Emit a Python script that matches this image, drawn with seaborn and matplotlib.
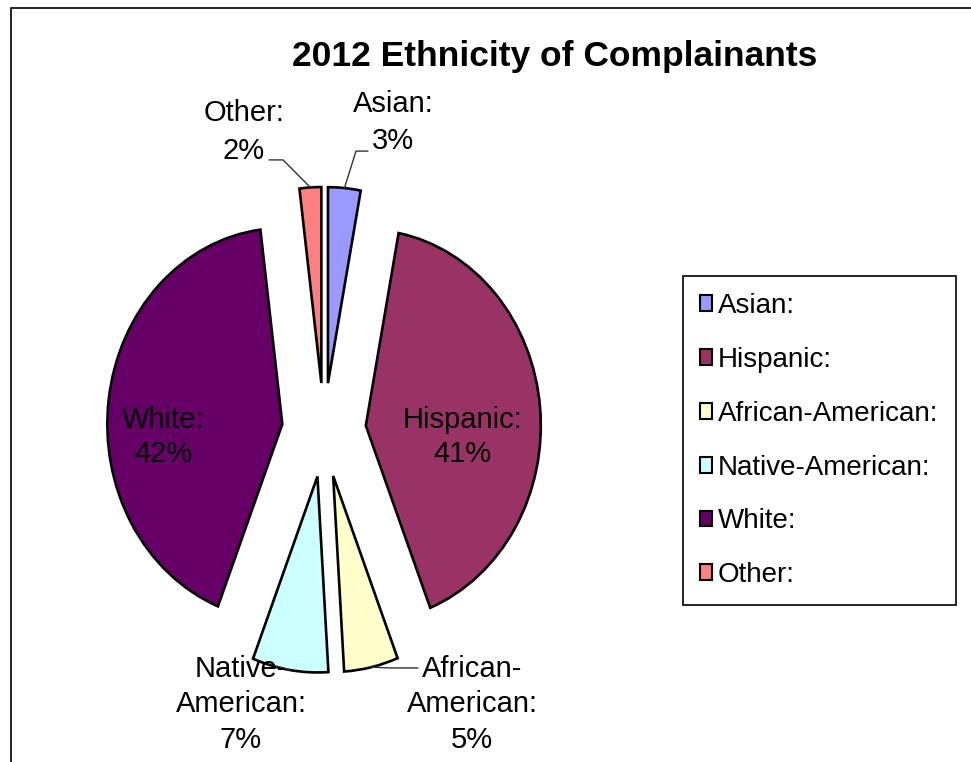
import matplotlib
matplotlib.use("Agg")
import matplotlib.pyplot as plt
import seaborn as sns
from matplotlib.patches import Patch
from matplotlib.lines import Line2D
import numpy as np

# ---- data ----
groups = ["Asian:", "Hispanic:", "African-American:", "Native-American:", "White:", "Other:"]
shares = [3, 41, 5, 7, 42, 2]
colors = ["#9999FF", "#993366", "#FFFFCC", "#CCFFFF", "#660066", "#FF8080"]
title = "2012 Ethnicity of Complainants"

# ---- style ----
sns.set_theme(style="white")
plt.rcParams["font.family"] = ["Liberation Sans", "DejaVu Sans"]
plt.rcParams["text.color"] = "black"
plt.rcParams["legend.labelcolor"] = "black"

W, H = 971, 762
fig = plt.figure(figsize=(W / 100, H / 100), dpi=100)
fig.patch.set_facecolor("white")

# pie centre and radii in pixels (the pie is drawn slightly taller than wide)
CX, CY, RX, RY = 324, 430, 175, 196
AX_L, AX_T, AX_R, AX_B = 9, 60, 639, 760
ax = fig.add_axes([AX_L / W, 1 - AX_B / H, (AX_R - AX_L) / W, (AX_B - AX_T) / H])

wedges, _ = ax.pie(
    shares,
    colors=colors,
    startangle=90,
    counterclock=False,
    explode=[0.24] * len(shares),
    wedgeprops=dict(edgecolor="black", linewidth=1.9),
)
ax.set_aspect("auto")
ax.set_xlim((AX_L - CX) / RX, (AX_R - CX) / RX)
ax.set_ylim((CY - AX_B) / RY, (CY - AX_T) / RY)
ax.axis("off")

# ---- slice labels ----
label_pos = {
    "Asian:": (0.394, 1.57),
    "Hispanic:": (0.789, -0.036),
    "African-American:": (0.846, -1.40),
    "Native-American:": (-0.474, -1.40),
    "White:": (-0.92, -0.036),
    "Other:": (-0.457, 1.52),
}
label_linespacing = {
    "Asian:": 1.42,
    "Hispanic:": 1.28,
    "African-American:": 1.33,
    "Native-American:": 1.33,
    "White:": 1.28,
    "Other:": 1.42,
}
leader_elbows = {
    "Asian:": [(0.251, 1.423), (0.183, 1.423)],
    "Other:": [(-0.314, 1.378), (-0.234, 1.378)],
    "African-American:": [(0.537, -1.214), (0.377, -1.214)],
    "Native-American:": [(-0.27, -1.205)],
}

for w, name, val in zip(wedges, groups, shares):
    text = name.replace("-", "-\n") + f"\n{val}%"
    x, y = label_pos[name]
    ax.text(x, y, text, ha="center", va="center", fontsize=21,
            color="black", linespacing=label_linespacing[name], zorder=5)
    if name in leader_elbows:
        mid = np.deg2rad((w.theta1 + w.theta2) / 2)
        cx, cy = w.center
        end = (cx + w.r * np.cos(mid), cy + w.r * np.sin(mid))
        pts = leader_elbows[name] + [end]
        ax.plot([p[0] for p in pts], [p[1] for p in pts],
                color="#333333", linewidth=1.0, zorder=4, clip_on=False)

# ---- title ----
fig.text(555 / W, 1 - 66 / H, title, ha="center", va="baseline",
         fontsize=25.5, fontweight="bold", color="black")

# ---- legend ----
handles = [Patch(facecolor=c, edgecolor="black", linewidth=1.5) for c in colors]
leg = fig.legend(
    handles, groups,
    loc="upper left",
    bbox_to_anchor=(683 / W, 1 - 276 / H),
    fontsize=20,
    frameon=True,
    fancybox=False,
    shadow=False,
    edgecolor="black",
    facecolor="white",
    framealpha=1,
    handlelength=0.42,
    handleheight=0.5,
    handletextpad=0.22,
    labelspacing=1.0,
    borderpad=0.62,
    borderaxespad=0,
)
leg.get_frame().set_linewidth(1.2)
for t in leg.get_texts():
    t.set_color("black")

# ---- chart area frame (top and left edges) ----
fig.add_artist(Line2D([11 / W, 11 / W, 1.0], [0.0, 1 - 8 / H, 1 - 8 / H],
                      transform=fig.transFigure, color="#222222", linewidth=1.4))

fig.savefig("out.png", dpi=100, facecolor="white")
